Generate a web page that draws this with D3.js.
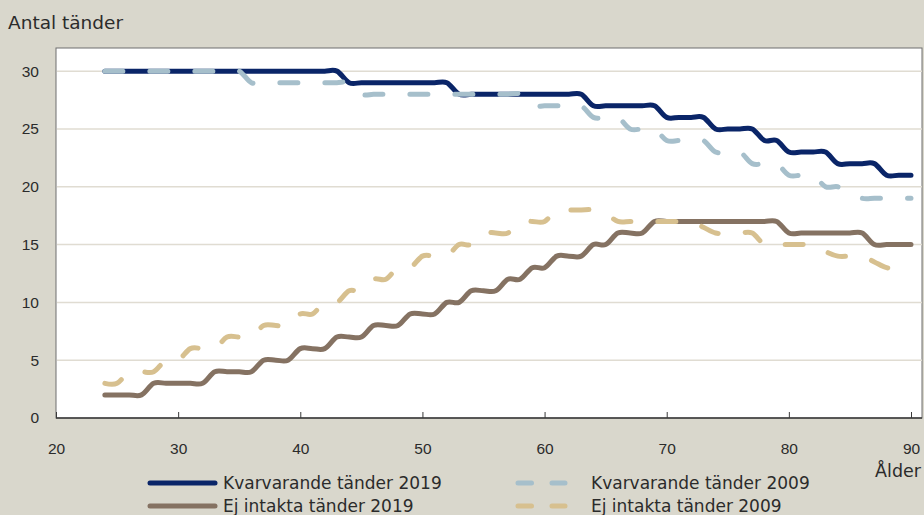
<!DOCTYPE html>
<html>
<head>
<meta charset="utf-8">
<script src="https://cdn.jsdelivr.net/npm/d3@7"></script>
<style>
    body { margin: 0; background: #d9d7cc; }
    svg { display: block; font-family: "DejaVu Sans", sans-serif; }
    .axis text { fill: #2b2b2b; font-size: 15.5px; }
</style>
</head>
<body>
<div id="vis"></div>
<script>
/* Antal tänder per ålder, 2019 vs 2009 */

// Ages on the x axis
var ages = [24, 25, 26, 27, 28, 29, 30, 31, 32, 33, 34, 35, 36, 37, 38, 39, 40, 41, 42, 43,
    44, 45, 46, 47, 48, 49, 50, 51, 52, 53, 54, 55, 56, 57, 58, 59, 60, 61, 62, 63,
    64, 65, 66, 67, 68, 69, 70, 71, 72, 73, 74, 75, 76, 77, 78, 79, 80, 81, 82, 83,
    84, 85, 86, 87, 88, 89, 90];

// Kvarvarande tänder 2019
var kvar2019 = [30, 30, 30, 30, 30, 30, 30, 30, 30, 30, 30, 30, 30, 30, 30, 30, 30, 30, 30, 30,
    29, 29, 29, 29, 29, 29, 29, 29, 29, 28, 28, 28, 28, 28, 28, 28, 28, 28, 28, 28,
    27, 27, 27, 27, 27, 27, 26, 26, 26, 26, 25, 25, 25, 25, 24, 24, 23, 23, 23, 23,
    22, 22, 22, 22, 21, 21, 21];

// Kvarvarande tänder 2009
var kvar2009 = [30, 30, 30, 30, 30, 30, 30, 30, 30, 30, 30, 30, 29, 29, 29, 29, 29, 29, 29, 29,
    29, 28, 28, 28, 28, 28, 28, 28, 28, 28, 28, 28, 28, 28, 28, 27, 27, 27, 27, 27,
    26, 26, 26, 25, 25, 25, 24, 24, 24, 24, 23, 23, 23, 22, 22, 22, 21, 21, 21, 20,
    20, 19.5, 19, 19, 19, 19, 19];

// Ej intakta tänder 2019
var ej2019 = [2, 2, 2, 2, 3, 3, 3, 3, 3, 4, 4, 4, 4, 5, 5, 5, 6, 6, 6, 7,
    7, 7, 8, 8, 8, 9, 9, 9, 10, 10, 11, 11, 11, 12, 12, 13, 13, 14, 14, 14,
    15, 15, 16, 16, 16, 17, 17, 17, 17, 17, 17, 17, 17, 17, 17, 17, 16, 16, 16, 16,
    16, 16, 16, 15, 15, 15, 15];

// Ej intakta tänder 2009
var ej2009 = [3, 3, 4, 4, 4, 5, 5, 6, 6, 6, 7, 7, 7, 8, 8, 8, 9, 9, 10, 10,
    11, 11, 12, 12, 13, 13, 14, 14, 14, 15, 15, 16, 16, 16, 17, 17, 17, 18, 18, 18,
    18, 17.7, 17, 17, 17, 17, 17, 17, 17, 16.5, 16, 16, 16, 16, 15, 15, 15, 15, 15, 14.4,
    14, 14, 14, 13.5, 13, 13, 13];

// Tick labels
var xTicks = [20, 30, 40, 50, 60, 70, 80, 90];
var yTicks = [0, 5, 10, 15, 20, 25, 30];

// Series styling
var series = [
    {name: 'Kvarvarande tänder 2019', values: kvar2019, color: '#0a2568', dashed: false},
    {name: 'Ej intakta tänder 2019', values: ej2019, color: '#857262', dashed: false},
    {name: 'Kvarvarande tänder 2009', values: kvar2009, color: '#a6bfcb', dashed: true},
    {name: 'Ej intakta tänder 2009', values: ej2009, color: '#d7c08f', dashed: true}
];

// Plot frame
var plot = {left: 56, right: 922, top: 48, bottom: 418};

var svg = d3.select('#vis')
    .append('svg')
    .attr('width', 924)
    .attr('height', 515);

svg.append('rect')
    .attr('width', 924)
    .attr('height', 515)
    .attr('fill', '#d9d7cc');

// White plotting area
svg.append('rect')
    .attr('x', plot.left)
    .attr('y', plot.top)
    .attr('width', plot.right - plot.left)
    .attr('height', plot.bottom - plot.top)
    .attr('fill', '#ffffff')
    .attr('stroke', '#6e6e6e')
    .attr('stroke-width', 1);

// Scales
var xScale = d3.scaleLinear()
    .domain([20, 90])
    .range([plot.left, 911]);

var yScale = d3.scaleLinear()
    .domain([0, 32])
    .range([plot.bottom, plot.top]);

// Gridlines
svg.append('g')
    .selectAll('line')
    .data(yTicks.filter(function(d) { return d > 0; }))
    .enter().append('line')
    .attr('x1', plot.left + 1)
    .attr('x2', plot.right)
    .attr('y1', function(d) { return yScale(d); })
    .attr('y2', function(d) { return yScale(d); })
    .attr('stroke', '#e0dcd2')
    .attr('stroke-width', 1.5);

// Axes
var xAxis = d3.axisBottom(xScale)
    .tickValues(xTicks)
    .tickSizeInner(-6)
    .tickSizeOuter(0)
    .tickPadding(25);

var xAxisG = svg.append('g')
    .attr('class', 'axis')
    .attr('transform', 'translate(0,' + plot.bottom + ')')
    .call(xAxis);
xAxisG.select('.domain')
    .attr('d', 'M' + plot.left + ',0H' + plot.right)
    .attr('stroke', '#3a3a3a')
    .attr('stroke-width', 1.5);
xAxisG.selectAll('.tick line').attr('stroke', '#3a3a3a');

var yAxis = d3.axisLeft(yScale)
    .tickValues(yTicks)
    .tickSize(0)
    .tickPadding(17);

var yAxisG = svg.append('g')
    .attr('class', 'axis')
    .attr('transform', 'translate(' + plot.left + ',0)')
    .call(yAxis);
yAxisG.select('.domain').remove();

// Lines
var line = d3.line()
    .x(function(d, i) { return xScale(ages[i]); })
    .y(function(d) { return yScale(d); })
    .curve(d3.curveCardinal.tension(0));

svg.append('g')
    .selectAll('path')
    .data(series)
    .enter().append('path')
    .attr('d', function(d) { return line(d.values); })
    .attr('fill', 'none')
    .attr('stroke', function(d) { return d.color; })
    .attr('stroke-width', 5)
    .attr('stroke-linecap', 'round')
    .attr('stroke-linejoin', 'round')
    .attr('stroke-dasharray', function(d) { return d.dashed ? '18,27' : null; });

// Axis titles
svg.append('text')
    .attr('x', 8)
    .attr('y', 29)
    .attr('fill', '#2b2b2b')
    .style('font-size', '18.5px')
    .text('Antal tänder');

svg.append('text')
    .attr('x', 921)
    .attr('y', 477)
    .attr('text-anchor', 'end')
    .attr('fill', '#2b2b2b')
    .style('font-size', '17.5px')
    .text('Ålder');

// Legend
var legendPos = [
    {x: 150, y: 483},
    {x: 150, y: 506},
    {x: 518, y: 483},
    {x: 518, y: 506}
];

var legend = svg.append('g')
    .selectAll('g')
    .data(series)
    .enter().append('g')
    .attr('transform', function(d, i) {
        return 'translate(' + legendPos[i].x + ',' + legendPos[i].y + ')';
    });

legend.append('line')
    .attr('x1', 0)
    .attr('x2', function(d) { return d.dashed ? 47 : 65; })
    .attr('stroke', function(d) { return d.color; })
    .attr('stroke-width', 5)
    .attr('stroke-linecap', 'round')
    .attr('stroke-dasharray', function(d) { return d.dashed ? '13.5,20.5' : null; });

legend.append('text')
    .attr('x', 73)
    .attr('y', 6)
    .attr('fill', '#2b2b2b')
    .style('font-size', '17px')
    .text(function(d) { return d.name; });
</script>
</body>
</html>
